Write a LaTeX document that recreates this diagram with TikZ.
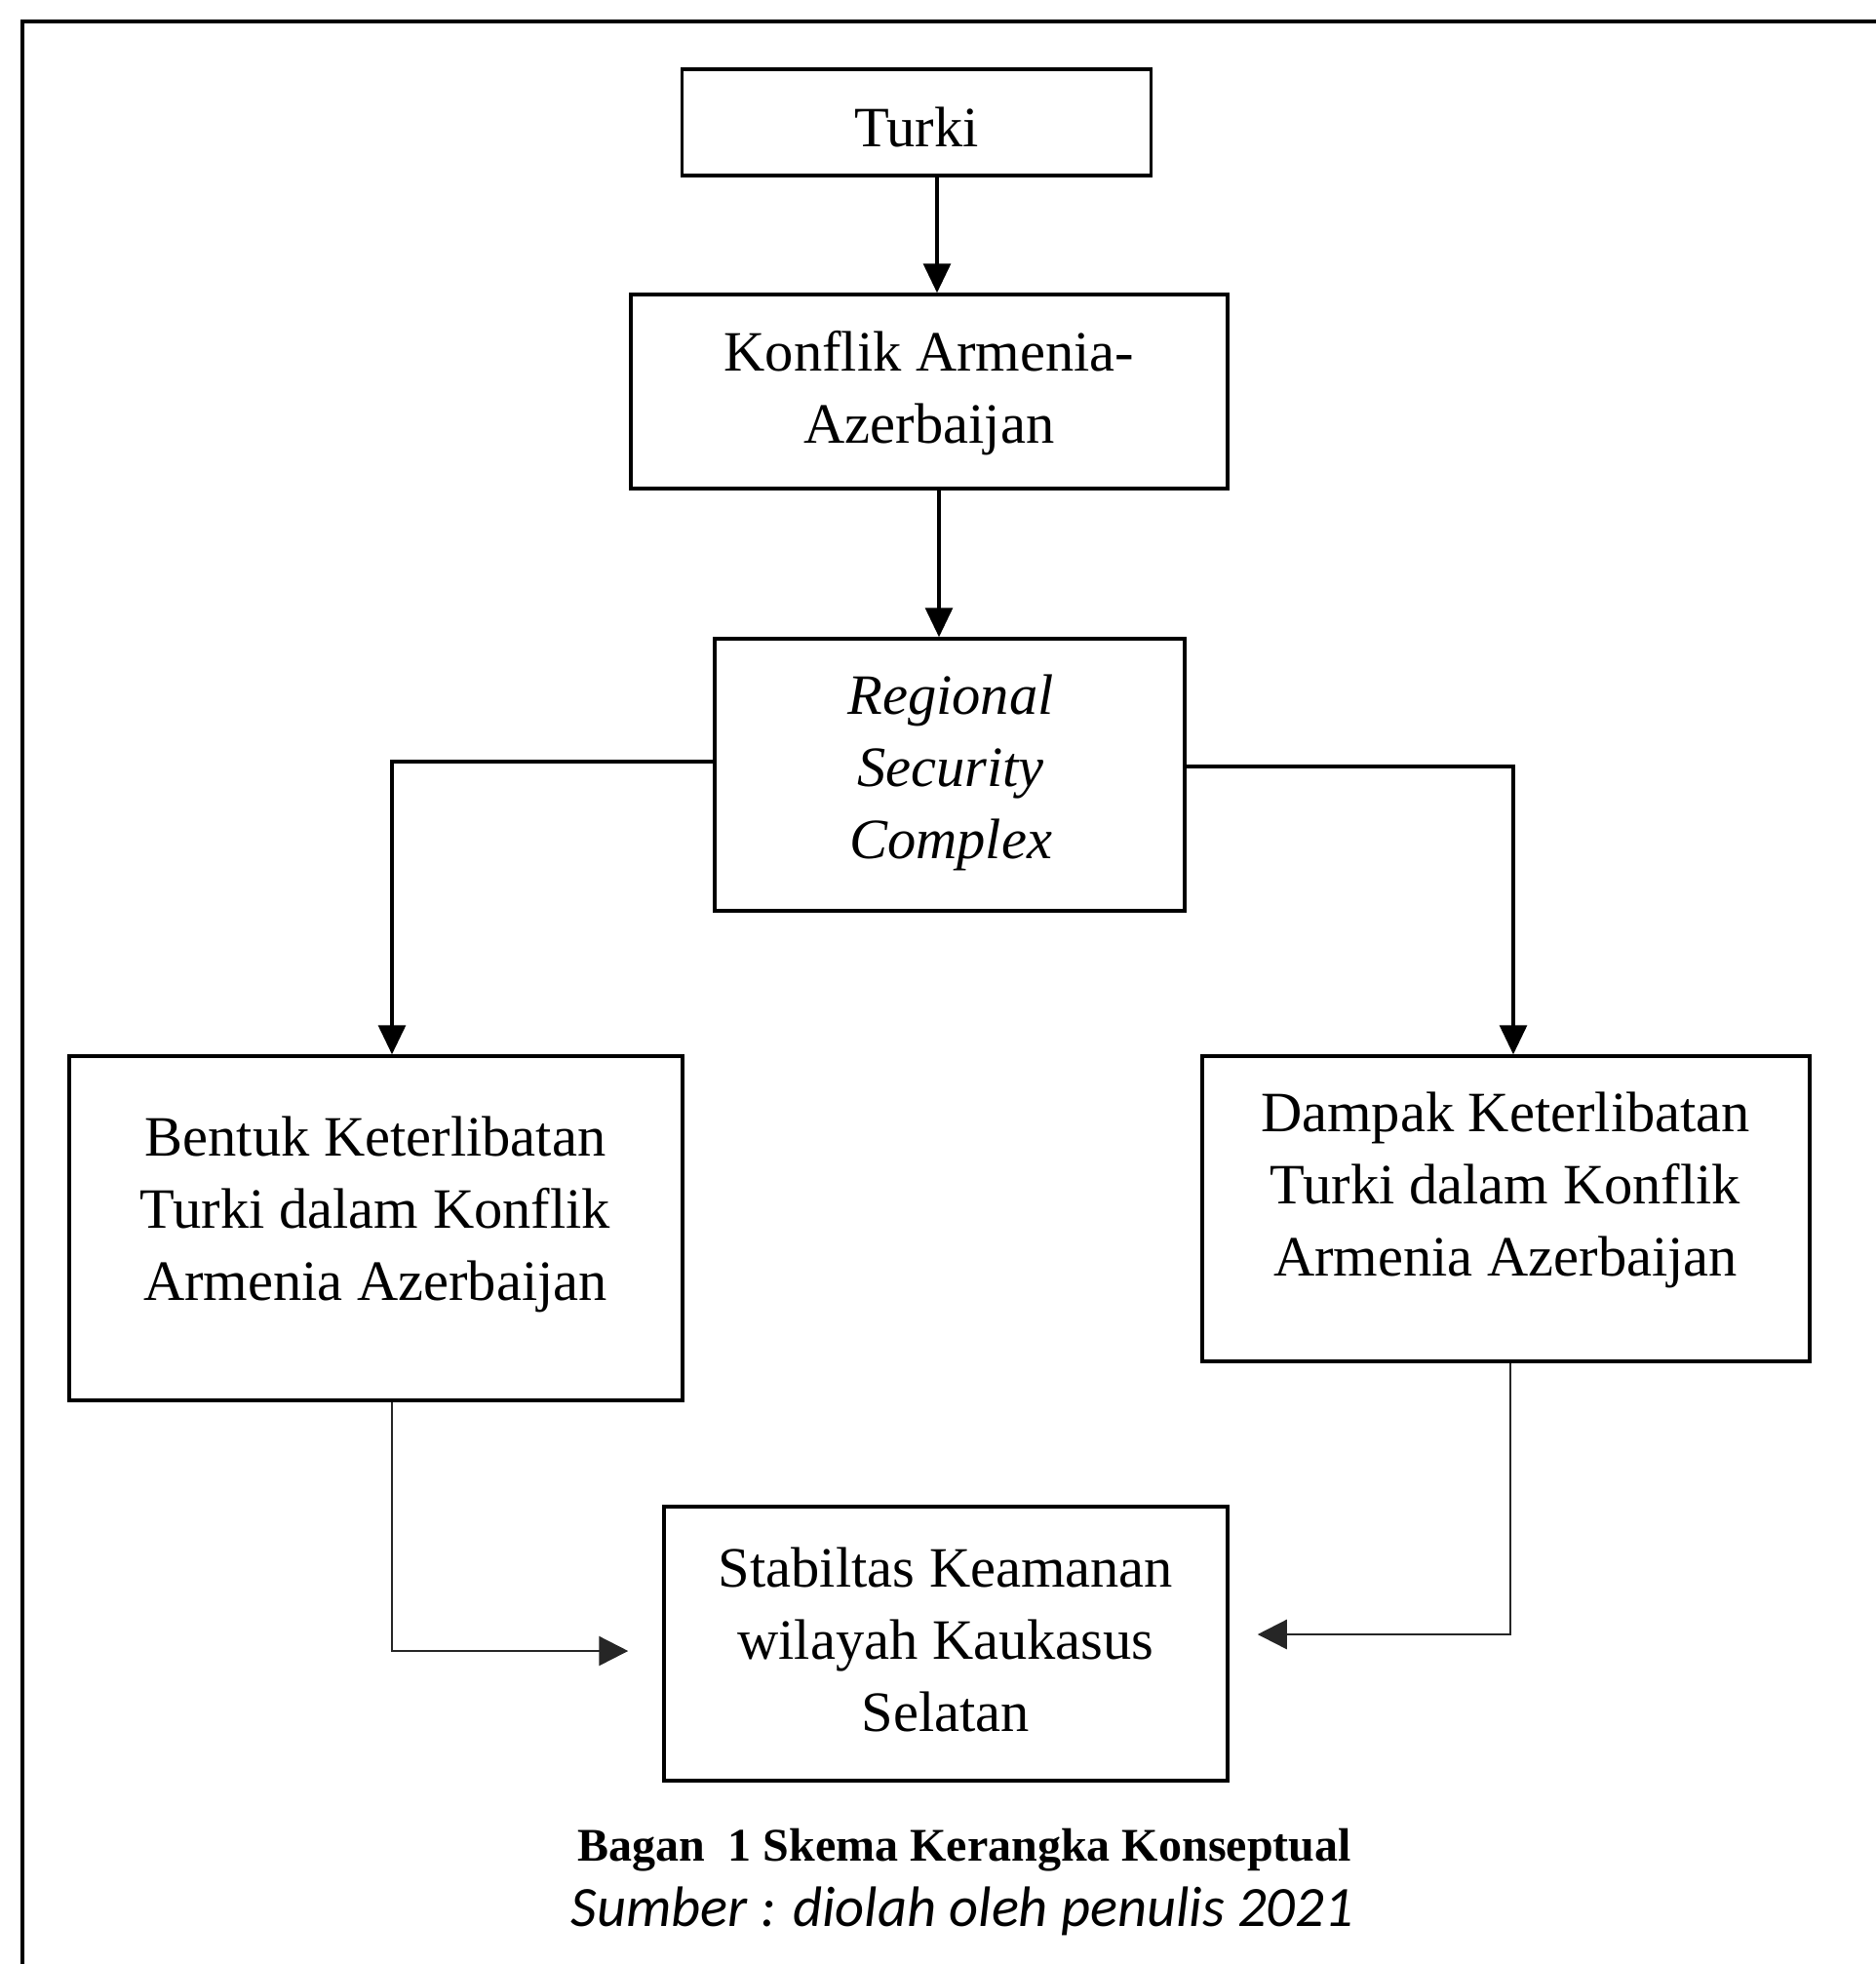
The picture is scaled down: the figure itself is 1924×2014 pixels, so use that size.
\documentclass[tikz,border=0pt]{standalone}
\usepackage{fontspec}
\setmainfont{Liberation Serif}
\newfontfamily\calibri{Carlito}
\usetikzlibrary{arrows.meta}
\begin{document}
\begin{tikzpicture}[x=1pt,y=-1pt,
  box/.style={draw, line width=3.5pt, rectangle, inner sep=0pt},
  txt/.style={align=center, inner sep=0pt, font=\fontsize{58.5}{74}\selectfont},
  arr/.style={line width=3.2pt, -{Triangle[length=30pt,width=28pt]}},
  thinarr/.style={line width=2.4pt, draw=black!85, -{Triangle[length=30pt,width=30pt]}}]
\useasboundingbox (0,0) rectangle (1924,2014);
% frame
\draw[line width=4pt] (23,2014) -- (23,22) -- (1924,22);
% boxes
\node[box, minimum width=481pt, minimum height=109pt] (turki) at (940,125.5) {};
\node[box, minimum width=612pt, minimum height=199pt] (konflik) at (953,401.5) {};
\node[box, minimum width=482pt, minimum height=279pt] (rsc) at (974,794.5) {};
\node[box, minimum width=629pt, minimum height=353pt] (bentuk) at (385.5,1259.5) {};
\node[box, minimum width=623pt, minimum height=313pt] (dampak) at (1544.5,1239.5) {};
\node[box, minimum width=578pt, minimum height=281pt] (stab) at (970,1685.5) {};
% texts
\node[txt] (tturki) at (940,130) {Turki};
\node[txt] (tkonflik) at (953,403) {Konflik Armenia-\\Azerbaijan};
\node[txt] (trsc) at (975,792) {\itshape Regional\\\itshape Security\\\itshape Complex};
\node[txt] (tbentuk) at (385,1245) {Bentuk Keterlibatan\\Turki dalam Konflik\\Armenia Azerbaijan};
\node[txt] (tdampak) at (1544,1220) {Dampak Keterlibatan\\Turki dalam Konflik\\Armenia Azerbaijan};
\node[txt] (tstab) at (970,1681) {Stabiltas Keamanan\\wilayah Kaukasus\\Selatan};
% caption
\node[inner sep=0pt, font=\fontsize{48}{58}\selectfont\bfseries] (cap) at (989,1897) {Bagan\ \ 1 Skema Kerangka Konseptual};
\node[inner sep=0pt, font=\fontsize{58.5}{68}\selectfont\calibri\itshape] (src) at (987,1960) {Sumber : diolah oleh penulis 2021};
% connector x positions
\coordinate (x1) at (961,0);
\coordinate (x2) at (963,0);
\coordinate (xl) at (402,0);
\coordinate (xr) at (1552,0);
\coordinate (xr2) at (1549,0);
% connectors
\draw[arr] (turki.south -| x1) -- (konflik.north -| x1);
\draw[arr] (konflik.south -| x2) -- (rsc.north -| x2);
\draw[arr] ([yshift=13.5pt]rsc.west) -| (bentuk.north -| xl);
\draw[arr] ([yshift=8.5pt]rsc.east) -| (dampak.north -| xr);
\coordinate (lend) at ([xshift=-35pt,yshift=-7.5pt]stab.west);
\coordinate (rend) at ([xshift=29pt,yshift=9.5pt]stab.east);
\draw[thinarr] (bentuk.south -| xl) |- (lend);
\draw[thinarr] (dampak.south -| xr2) |- (rend);
\end{tikzpicture}
\end{document}
